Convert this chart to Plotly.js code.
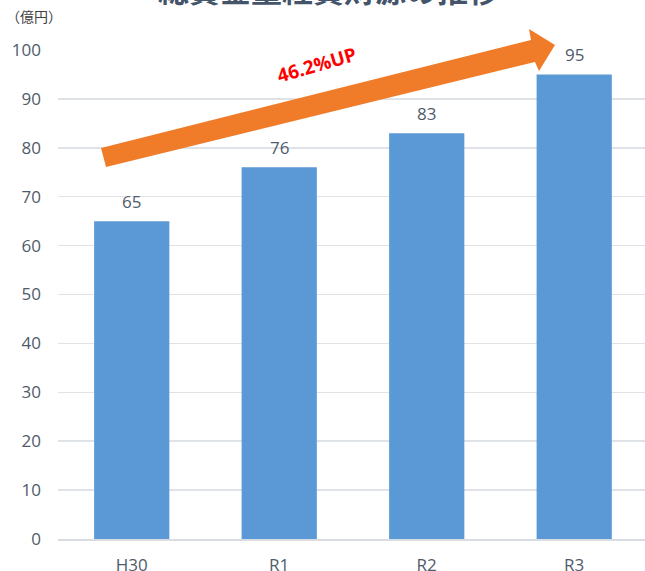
<!DOCTYPE html>
<html>
<head>
<meta charset="utf-8">
<script src="https://cdn.plot.ly/plotly-3.0.1.min.js"></script>
<style>html,body{margin:0;padding:0;background:#fff;overflow:hidden}#chart{width:645px;height:571px}</style>
</head>
<body>
<div id="chart"></div>
<script>
const categories = ["H30", "R1", "R2", "R3"];
const values = [65, 76, 83, 95];
const yTicks = [0, 10, 20, 30, 40, 50, 60, 70, 80, 90, 100];
const titleText = "総賃金量経費財源の推移";
const unitText = "（億円）";
const growthText = "46.2%UP";

// plot area geometry in pixels (for decorative arrow)
const L = 58, T = 50, W = 587, H = 489;
function px(x) { return (x - L) / W; }
function py(y) { return (T + H - y) / H; }
const arrowPts = [[101,148],[531,40],[529,29],[555,45],[539,71],[535,62],[106,167]];
const arrowPath = arrowPts.map((p, i) => (i ? "L" : "M") + px(p[0]).toFixed(4) + "," + py(p[1]).toFixed(4)).join(" ") + " Z";

const font = "'Open Sans', 'Noto Sans CJK JP', sans-serif";
const textColor = "#4f5b6c";

const trace = {
  type: "bar",
  x: categories,
  y: values,
  marker: { color: "#5b99d6" },
  cliponaxis: false,
  hoverinfo: "none"
};

const valueLabels = categories.map((c, i) => ({
  x: c, y: values[i], xref: "x", yref: "y",
  text: String(values[i]),
  showarrow: false, yanchor: "middle", yshift: 20,
  font: { family: font, size: 17, color: textColor }
}));

const layout = {
  width: 645, height: 571,
  margin: { l: L, r: 0, t: T, b: 571 - T - H },
  paper_bgcolor: "#ffffff",
  plot_bgcolor: "#ffffff",
  showlegend: false,
  bargap: 0.49,
  xaxis: {
    type: "category",
    range: [-0.5, 3.48],
    showgrid: false,
    showline: true,
    linecolor: "#d9dde3",
    linewidth: 1.5,
    ticks: "",
    tickfont: { family: font, size: 17, color: textColor },
    ticklabelstandoff: 10,
    fixedrange: true
  },
  yaxis: {
    range: [0, 100],
    tickvals: yTicks,
    showgrid: true,
    gridcolor: "#dfe2e7",
    gridwidth: 1.5,
    zeroline: false,
    showline: false,
    ticks: "",
    tickfont: { family: font, size: 17, color: textColor },
    ticklabelstandoff: 16,
    fixedrange: true
  },
  shapes: [{
    type: "path",
    xref: "paper", yref: "paper",
    path: arrowPath,
    fillcolor: "#f07c2a",
    line: { width: 0 },
    layer: "above"
  }],
  annotations: valueLabels.concat([
    {
      text: "<b>" + titleText + "</b>", xref: "paper", yref: "paper",
      x: px(328), y: py(13), xanchor: "center", yanchor: "bottom",
      showarrow: false,
      font: { family: "'Noto Sans CJK JP', sans-serif", size: 31, color: "#44546a" }
    },
    {
      text: unitText, xref: "paper", yref: "paper",
      x: px(4), y: py(16), xanchor: "left", yanchor: "middle",
      showarrow: false,
      font: { family: "'Noto Sans CJK JP', sans-serif", size: 14, color: "#404040" }
    },
    {
      text: "<b>" + growthText + "</b>", xref: "paper", yref: "paper",
      x: px(316), y: py(65), xanchor: "center", yanchor: "middle",
      textangle: -16,
      showarrow: false,
      font: { family: font, size: 19, color: "#ff0000" }
    }
  ])
};

Plotly.newPlot("chart", [trace], layout, { staticPlot: true, displayModeBar: false });
</script>
</body>
</html>
